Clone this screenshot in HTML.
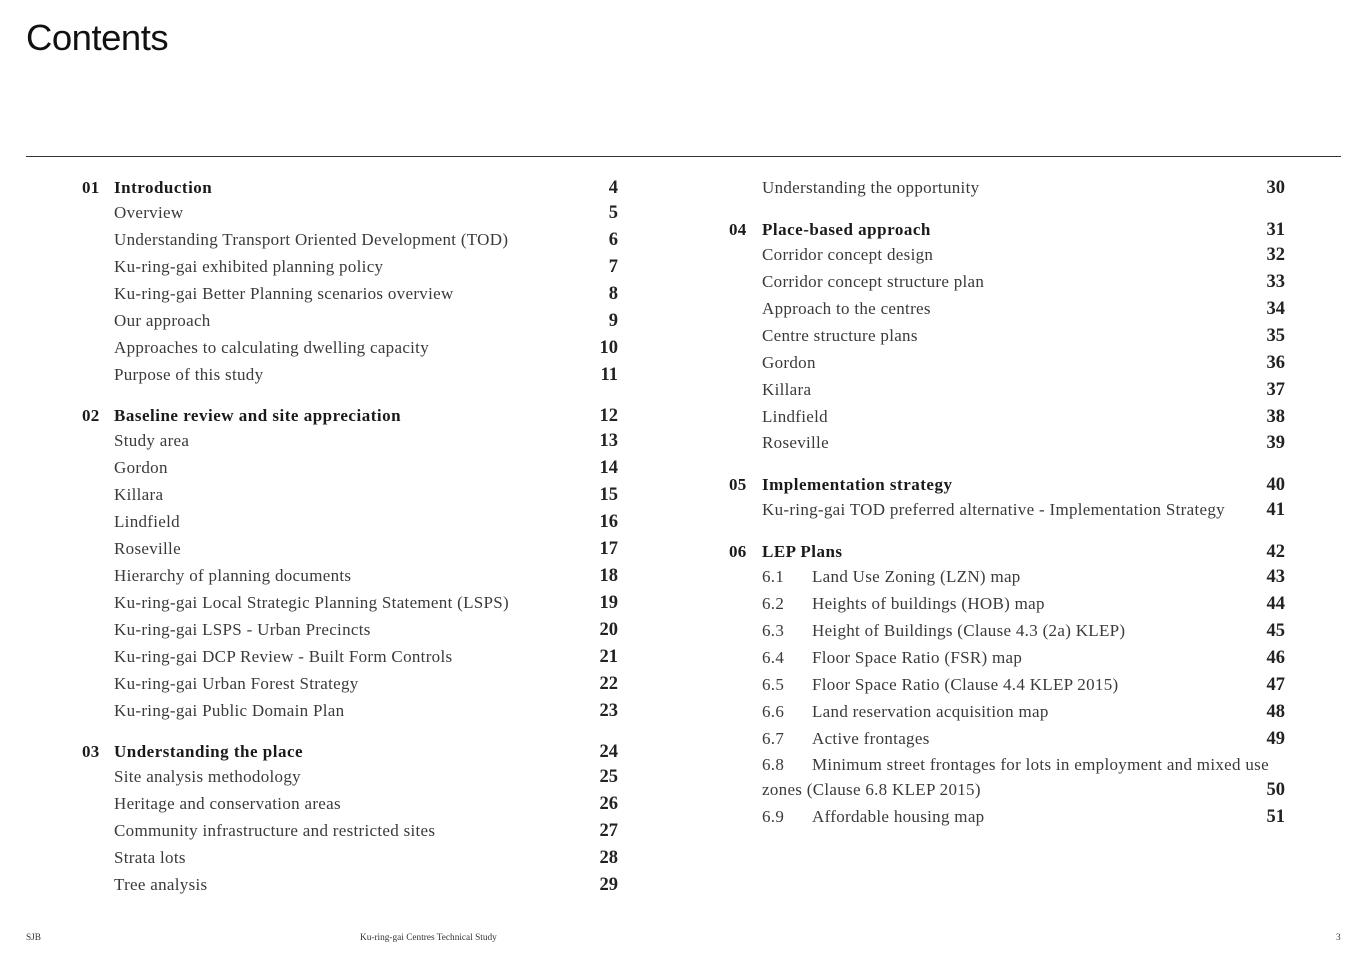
<!DOCTYPE html>
<html><head><meta charset="utf-8"><style>
body{margin:0;width:1367px;height:967px;background:#fff;position:relative;overflow:hidden;font-family:"Liberation Serif",serif;color:#3a3a3a}
.t{position:absolute;font-size:17px;line-height:20px;white-space:nowrap;letter-spacing:0.3px}
.b{font-weight:bold;color:#1a1a1a;letter-spacing:0.5px}
.n{position:absolute;font-size:18.5px;line-height:20px;font-weight:bold;color:#222;text-align:right;width:60px}
h1{position:absolute;left:26px;top:17px;margin:0;font-family:"Liberation Sans",sans-serif;font-weight:normal;font-size:36.5px;color:#111;letter-spacing:-0.5px}
.rule{position:absolute;left:26px;top:156px;width:1315px;height:1px;background:#333}
.f{position:absolute;top:933px;font-size:9.3px;line-height:10px;color:#333}
</style></head><body>
<h1>Contents</h1>
<div class="rule"></div>
<div id="c"></div>
<div class="f" style="left:26px">SJB</div>
<div class="f" style="left:360px">Ku-ring-gai Centres Technical Study</div>
<div class="f" style="left:1336px">3</div>
<script>
var L=[
[188,"01","Introduction","4",1],[213,"","Overview","5"],[240,"","Understanding Transport Oriented Development (TOD)","6"],[267,"","Ku-ring-gai exhibited planning policy","7"],[294,"","Ku-ring-gai Better Planning scenarios overview","8"],[321,"","Our approach","9"],[348,"","Approaches to calculating dwelling capacity","10"],[375,"","Purpose of this study","11"],
[416,"02","Baseline review and site appreciation","12",1],[441,"","Study area","13"],[468,"","Gordon","14"],[495,"","Killara","15"],[522,"","Lindfield","16"],[549,"","Roseville","17"],[576,"","Hierarchy of planning documents","18"],[603,"","Ku-ring-gai Local Strategic Planning Statement (LSPS)","19"],[630,"","Ku-ring-gai LSPS - Urban Precincts","20"],[657,"","Ku-ring-gai DCP Review - Built Form Controls","21"],[684,"","Ku-ring-gai Urban Forest Strategy","22"],[711,"","Ku-ring-gai Public Domain Plan","23"],
[752,"03","Understanding the place","24",1],[777,"","Site analysis methodology","25"],[804,"","Heritage and conservation areas","26"],[831,"","Community infrastructure and restricted sites","27"],[858,"","Strata lots","28"],[885,"","Tree analysis","29"]];
var R=[
[188,"","Understanding the opportunity","30"],[230,"04","Place-based approach","31",1],[255,"","Corridor concept design","32"],[282,"","Corridor concept structure plan","33"],[309,"","Approach to the centres","34"],[336,"","Centre structure plans","35"],[363,"","Gordon","36"],[390,"","Killara","37"],[417,"","Lindfield","38"],[443,"","Roseville","39"],
[485,"05","Implementation strategy","40",1],[510,"","Ku-ring-gai TOD preferred alternative - Implementation Strategy","41"],
[552,"06","LEP Plans","42",1],[577,"6.1","Land Use Zoning (LZN) map","43",2],[604,"6.2","Heights of buildings (HOB) map","44",2],[631,"6.3","Height of Buildings (Clause 4.3 (2a) KLEP)","45",2],[658,"6.4","Floor Space Ratio (FSR) map","46",2],[685,"6.5","Floor Space Ratio (Clause 4.4 KLEP 2015)","47",2],[712,"6.6","Land reservation acquisition map","48",2],[739,"6.7","Active frontages","49",2],[765,"6.8","Minimum street frontages for lots in employment and mixed use","",2],[790,"","zones (Clause 6.8 KLEP 2015)","50"],[817,"6.9","Affordable housing map","51",2]];
var h="";
function add(a,nx,tx,px){a.forEach(function(e){var top=e[0]-10;
if(e[4]==2){h+='<div class="t" style="left:'+tx+'px;top:'+top+'px">'+e[1]+'</div><div class="t" style="left:'+(tx+50)+'px;top:'+top+'px">'+e[2]+'</div>';}
else{ if(e[1])h+='<div class="t b" style="left:'+nx+'px;top:'+top+'px;letter-spacing:0.2px">'+e[1]+'</div>';
h+='<div class="t'+(e[4]?' b':'')+'" style="left:'+tx+'px;top:'+top+'px">'+e[2]+'</div>';}
if(e[3])h+='<div class="n" style="left:'+(px-60)+'px;top:'+top+'px">'+e[3]+'</div>';});}
add(L,82,114,618);add(R,729,762,1285);
document.getElementById("c").innerHTML=h;
</script>
</body></html>
